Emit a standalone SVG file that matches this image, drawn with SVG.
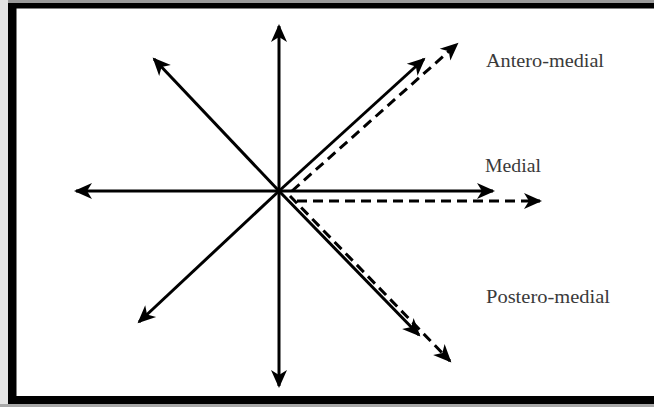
<svg xmlns="http://www.w3.org/2000/svg" width="654" height="407" viewBox="0 0 654 407">
  <style>
    .solid { stroke: #000; stroke-width: 3; fill: none; marker-end: url(#ah); }
    .dash { stroke: #000; stroke-width: 3; fill: none; stroke-dasharray: 10 6; marker-end: url(#ah); }
    .lbl { font-family: "Liberation Serif", "Times New Roman", serif; font-size: 19px; fill: #3a3a3a; }
  </style>
  <defs>
    <marker id="ah" markerUnits="userSpaceOnUse" markerWidth="24" markerHeight="20" viewBox="-20 -10 24 20" refX="0" refY="0" orient="auto">
      <path d="M2,0 L-16,-8 L-11,0 L-16,8 Z" fill="#000"/>
    </marker>
  </defs>
  <rect x="0" y="0" width="654" height="407" fill="#fff"/>
  <rect x="0" y="0" width="654" height="3" fill="#9a9a9a"/>
  <rect x="0" y="0" width="8" height="407" fill="#e4e4e4"/>
  <rect x="0" y="404" width="654" height="3" fill="#a8a8a8"/>
  <g id="frame" fill="#000">
    <rect x="8" y="3" width="646" height="5.5"/>
    <rect x="8" y="3" width="8.5" height="401"/>
    <rect x="8" y="396" width="646" height="8"/>
  </g>
  <g id="connectors">
    <line class="solid" x1="279" y1="191" x2="279" y2="26"/>
    <line class="solid" x1="279" y1="191" x2="279" y2="386"/>
    <line class="solid" x1="279" y1="191" x2="76" y2="191"/>
    <line class="solid" x1="279" y1="191" x2="493" y2="191"/>
    <line class="solid" x1="279" y1="191" x2="154" y2="59"/>
    <line class="solid" x1="279" y1="191" x2="139" y2="322"/>
    <line class="solid" x1="279" y1="191" x2="424" y2="59"/>
    <line class="solid" x1="279" y1="191" x2="419" y2="335"/>
    <line class="dash" x1="292" y1="191" x2="457" y2="44"/>
    <line class="dash" x1="297" y1="201" x2="540" y2="201"/>
    <line class="dash" x1="290" y1="196" x2="450" y2="361"/>
  </g>
  <g id="antero-medial"><text class="lbl" x="486" y="67" textLength="118" lengthAdjust="spacingAndGlyphs">Antero-medial</text></g>
  <g id="medial"><text class="lbl" x="485" y="172" textLength="56" lengthAdjust="spacingAndGlyphs">Medial</text></g>
  <g id="postero-medial"><text class="lbl" x="486" y="303" textLength="124" lengthAdjust="spacingAndGlyphs">Postero-medial</text></g>
</svg>
